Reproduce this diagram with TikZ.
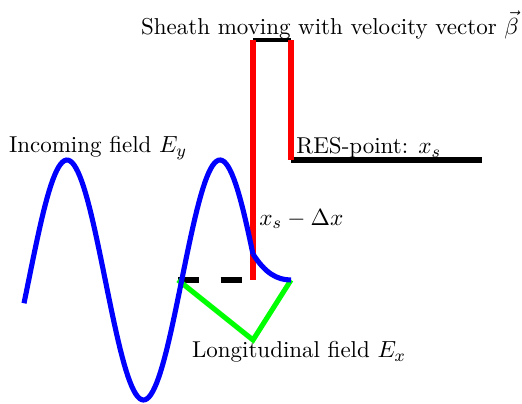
\documentclass[tikz,border=0pt]{standalone}
\usepackage{amsmath, amssymb}
\usepackage{tikz}
\usetikzlibrary{positioning,calc}

\begin{document}
\begin{tikzpicture}[
  x=0.47pt, y=-0.47pt,
  lbl/.style={inner sep=0pt, font=\fontsize{10.8}{13}\selectfont},
  wave/.style={blue, line width=2.4pt},
  sheath/.style={red, line width=2.4pt},
  bar/.style={black, line width=2.8pt},
  longi/.style={green, line width=2.4pt},
]
\useasboundingbox (0,0) rectangle (522,403);

\coordinate (tl) at (253,40);
\coordinate (tr) at (291,40);
\coordinate (res) at (291,160);
\coordinate (resend) at (482,160);
\coordinate (foot) at (253,280);
\coordinate (zero) at (178,280);
\coordinate (tip) at (253,340);
\coordinate (edge) at (291,280);
\coordinate (join) at (253,254);

\node[lbl] (title) at (330,25) {Sheath moving with velocity vector $\vec{\beta}$};
\node[lbl] (inc) at (98,148) {Incoming field $E_y$};
\node[lbl, anchor=west] (respt) at (296,148) {RES-point: $x_s$};
\node[lbl, anchor=west] (dx) at (259,219) {$x_s-\Delta x$};
\node[lbl] (lon) at (299,352) {Longitudinal field $E_x$};

\draw[bar, line width=1.8pt] (tl) -- (tr);
\draw[bar] (res) -- (resend);
\draw[bar, dash pattern=on 10pt off 10pt] (zero) -- (foot);
\draw[sheath] (tl) -- (foot);
\draw[sheath] (tr) -- (res);
\draw[longi] (zero) -- (tip) -- (edge);
\draw[wave] plot[domain=24:253, samples=120] (\x, {280-120*cos((\x-67)/153*360)});
\draw[wave] (join) .. controls (265,273) and (277,280) .. (edge);
\end{tikzpicture}
\end{document}
